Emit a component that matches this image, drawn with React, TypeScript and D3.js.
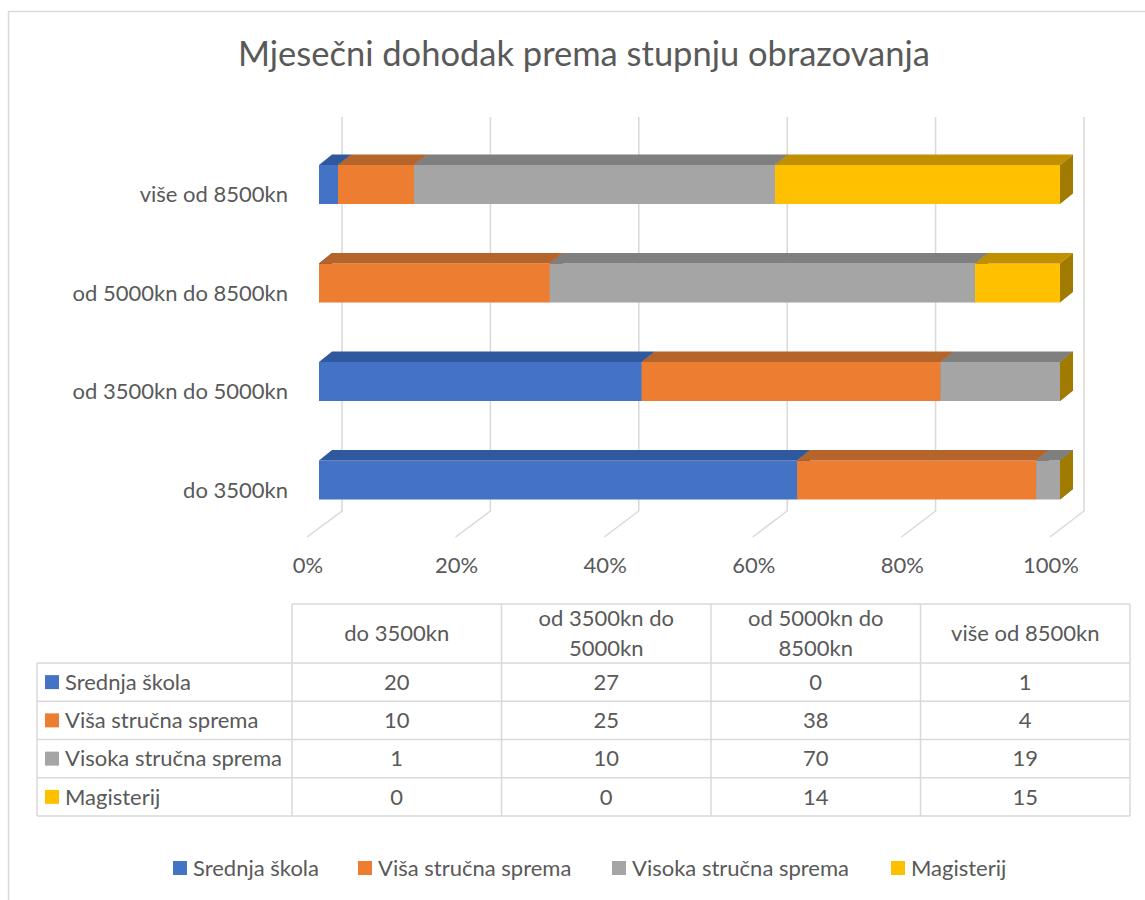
import React from 'react';
import * as d3 from 'd3';

const categories = ['do 3500kn', 'od 3500kn do 5000kn', 'od 5000kn do 8500kn', 'više od 8500kn'];
const headerLines = [['do 3500kn'], ['od 3500kn do', '5000kn'], ['od 5000kn do', '8500kn'], ['više od 8500kn']];
const seriesNames = ['Srednja škola', 'Viša stručna sprema', 'Visoka stručna sprema', 'Magisterij'];
const srednjaSkola = [20, 27, 0, 1];
const visaStrucna = [10, 25, 38, 4];
const visokaStrucna = [1, 10, 70, 19];
const magisterij = [0, 0, 14, 15];
const tickValues = [0, 0.2, 0.4, 0.6, 0.8, 1];
const title = 'Mjesečni dohodak prema stupnju obrazovanja';

const FRONT = ['#4472C4', '#ED7D31', '#A5A5A5', '#FFC000'];
const TOP = ['#30589F', '#B5652A', '#7F7F7F', '#C09000'];
const SIDE = ['#264478', '#9E480E', '#636363', '#A07B00'];
const TEXT = '#595959';
const GRID = '#D9D9D9';
const FONT = 'Lato, "Open Sans", sans-serif';
const FS = 22;

export default function App() {
  const seriesValues = [srednjaSkola, visaStrucna, visokaStrucna, magisterij];
  const rows = categories.map((c, i) => {
    const o: any = { cat: c };
    seriesNames.forEach((s, j) => (o[s] = seriesValues[j][i]));
    return o;
  });
  const stack = d3.stack<any>().keys(seriesNames).offset(d3.stackOffsetExpand);
  const stacked = stack(rows);

  const xFront = d3.scaleLinear().domain([0, 1]).range([319, 1060]);
  const xBack = d3.scaleLinear().domain([0, 1]).range([342, 1084]);
  const xFloor = d3.scaleLinear().domain([0, 1]).range([307, 1050]);
  const y = d3.scaleBand().domain([...categories].reverse()).range([135.25, 529.25]).paddingInner(0.604).paddingOuter(0.302);
  const dx = 13, dy = -10.5;
  const bw = y.bandwidth();

  const colX = d3.scaleBand().domain(categories).range([292, 1130]);
  const rowY = d3.scaleBand().domain(seriesNames).range([663, 816]);
  const headTop = 604;
  const tableLeft = 37;

  const legendLayout = [173, 358, 612, 891];

  const poly = (pts: number[][]) => pts.map(p => p.join(',')).join(' ');

  return (
    <svg width={1145} height={900} style={{ position: 'absolute', left: 0, top: 0, fontFamily: FONT }}>
      <rect x={0} y={0} width={1145} height={900} fill="#fff" />
      <rect x={8.5} y={11.5} width={1200} height={1000} fill="none" stroke={GRID} strokeWidth={1.5} />
      <text x={584} y={66} textAnchor="middle" fontSize={34.5} fill={TEXT}>{title}</text>

      {tickValues.map(t => (
        <g key={t}>
          <polyline
            points={poly([[xBack(t), 117], [xBack(t), 511], [xFloor(t), 537]])}
            fill="none" stroke={GRID} strokeWidth={1.5} />
          <text x={xFloor(t) + 1} y={573} textAnchor="middle" fontSize={FS} fill={TEXT}>{d3.format('.0%')(t)}</text>
        </g>
      ))}

      {categories.map((c, ci) => {
        const y0 = y(c)!;
        const y1 = y0 + bw;
        return (
          <g key={c}>
            {stacked.map((s, si) => {
              const a = xFront(s[ci][0]);
              const b = xFront(s[ci][1]);
              return (
                <g key={si}>
                  <rect x={a} y={y0} width={b - a} height={bw} fill={FRONT[si]} />
                  <polygon points={poly([[a, y0], [b, y0], [b + dx, y0 + dy], [a + dx, y0 + dy]])} fill={TOP[si]} />
                  <polygon points={poly([[b, y0], [b + dx, y0 + dy], [b + dx, y1 + dy], [b, y1]])} fill={SIDE[si]} />
                </g>
              );
            })}
            <text x={288} y={(y0 + y1) / 2 + 10} dy="0.35em" textAnchor="end" fontSize={FS} fill={TEXT}>{c}</text>
          </g>
        );
      })}

      {/* data table */}
      <g stroke={GRID} strokeWidth={1.5} fill="none">
        <line x1={292} x2={1130} y1={headTop} y2={headTop} />
        {[...seriesNames.map(s => rowY(s)!), 816].map((yy, i) => (
          <line key={i} x1={tableLeft} x2={1130} y1={yy} y2={yy} />
        ))}
        <line x1={tableLeft} x2={tableLeft} y1={663} y2={816} />
        {[...categories.map(c => colX(c)!), 1130].map((xx, i) => (
          <line key={i} x1={xx} x2={xx} y1={headTop} y2={816} />
        ))}
      </g>
      {categories.map((c, ci) => {
        const cx = colX(c)! + colX.bandwidth() / 2;
        const lines = headerLines[ci];
        const cy = (headTop + 663) / 2;
        return (
          <text key={c} x={cx} textAnchor="middle" fontSize={FS} fill={TEXT}>
            {lines.map((l, li) => (
              <tspan key={li} x={cx} y={cy + (li - (lines.length - 1) / 2) * 30} dy="0.35em">{l}</tspan>
            ))}
          </text>
        );
      })}
      {seriesNames.map((s, si) => {
        const cy = rowY(s)! + rowY.bandwidth() / 2;
        return (
          <g key={s}>
            <rect x={45} y={cy - 7} width={14} height={14} fill={FRONT[si]} />
            <text x={65} y={cy} dy="0.35em" fontSize={FS} fill={TEXT}>{s}</text>
            {categories.map((c, ci) => (
              <text key={c} x={colX(c)! + colX.bandwidth() / 2} y={cy} dy="0.35em" textAnchor="middle" fontSize={FS} fill={TEXT}>
                {seriesValues[si][ci]}
              </text>
            ))}
          </g>
        );
      })}

      {/* legend */}
      {seriesNames.map((s, si) => (
        <g key={s}>
          <rect x={legendLayout[si]} y={861} width={14} height={14} fill={FRONT[si]} />
          <text x={legendLayout[si] + 20} y={868} dy="0.35em" fontSize={FS} fill={TEXT}>{s}</text>
        </g>
      ))}
    </svg>
  );
}
